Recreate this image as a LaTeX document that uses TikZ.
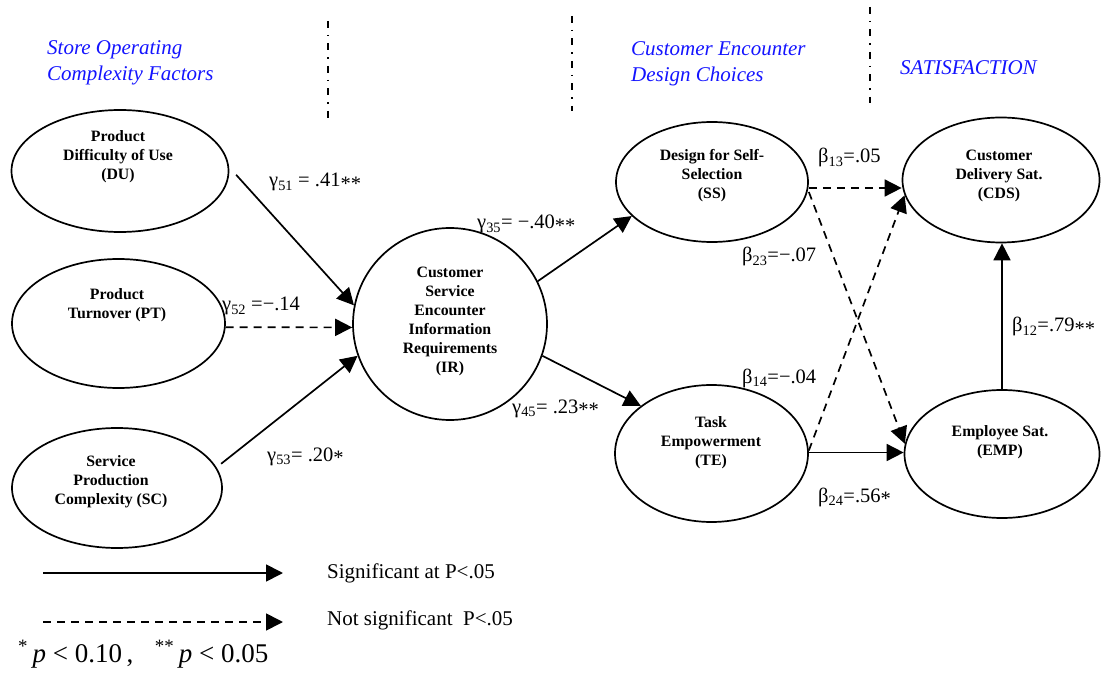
\documentclass[tikz,border=0pt]{standalone}
\usepackage{fontspec}
\setmainfont{Liberation Serif}
\usetikzlibrary{arrows.meta,shapes.geometric}
\definecolor{hdrblue}{RGB}{20,20,255}
\newcommand{\mystars}[1]{\raisebox{-0.35ex}{#1}}
\begin{document}
\begin{tikzpicture}[x=1pt,y=-1pt,
  latent/.style={draw, line width=1.7pt, ellipse, inner sep=0pt},
  ntext/.style={align=center, inner sep=0pt, font=\fontsize{15.8}{19}\selectfont\bfseries},
  coef/.style={anchor=base west, inner sep=0pt, font=\fontsize{20.5}{24}\selectfont},
  hdr/.style={anchor=base west, inner sep=0pt, text=hdrblue, font=\fontsize{21}{26}\selectfont\itshape},
  sig/.style={line width=1.7pt, -{Triangle[length=17pt,width=17pt]}},
  nsig/.style={sig, dash pattern=on 8pt off 6pt},
  divider/.style={line width=1.3pt, dash pattern=on 7pt off 7pt on 1.5pt off 7pt},
  legtext/.style={anchor=west, inner sep=0pt, font=\fontsize{21}{25}\selectfont}
]
\useasboundingbox (0,0) rectangle (1106,676);

% headers
\node[hdr] (h1a) at (47,55) {Store Operating};
\node[hdr] (h1b) at (47,81) {Complexity Factors};
\node[hdr] (h2a) at (631,56) {Customer Encounter};
\node[hdr] (h2b) at (631,82) {Design Choices};
\node[hdr] (h3) at (900,75) {SATISFACTION};

% dividers
\draw[divider] (328,21) -- (328,118);
\draw[divider] (572,16) -- (572,111);
\draw[divider] (870,7) -- (870,103);

% latent variables
\node[latent, minimum width=217pt, minimum height=122pt] (DU) at (120,171) {};
\node[ntext] (DUt) at (118,157) {Product\\Difficulty of Use\\(DU)};
\node[latent, minimum width=213pt, minimum height=129pt] (PT) at (118.5,323.5) {};
\node[ntext] (PTt) at (117,305.5) {Product\\Turnover (PT)};
\node[latent, minimum width=210pt, minimum height=120pt] (SC) at (117,488) {};
\node[ntext] (SCt) at (111,482) {Service\\Production\\Complexity (SC)};
\node[latent, minimum width=194pt, minimum height=192pt] (IR) at (450,324) {};
\node[ntext] (IRt) at (450,321.5) {Customer\\Service\\Encounter\\Information\\Requirements\\(IR)};
\node[latent, minimum width=192pt, minimum height=120pt] (SS) at (712,182) {};
\node[ntext] (SSt) at (712,176) {Design for Self-\\Selection\\(SS)};
\node[latent, minimum width=197pt, minimum height=125pt] (CDS) at (1001,180) {};
\node[ntext] (CDSt) at (999,176) {Customer\\Delivery Sat.\\(CDS)};
\node[latent, minimum width=193pt, minimum height=137pt] (TE) at (711.5,453.5) {};
\node[ntext] (TEt) at (711,442.5) {Task\\Empowerment\\(TE)};
\node[latent, minimum width=195pt, minimum height=128pt] (EMP) at (1002,454) {};
\node[ntext] (EMPt) at (1000,442) {Employee Sat.\\(EMP)};

% paths
\draw[sig] ([xshift=7pt]DU.-2) -- (IR.169);
\draw[nsig] (PT.-2) -- (IR.182);
\draw[sig] ([xshift=7pt]SC.14) -- (IR.199);
\draw[sig] (IR.26) -- (SS.203);
\draw[sig] (IR.-19) -- (TE.146);
\coordinate (s1) at ([yshift=-6pt]SS.east);
\draw[nsig] (s1) -- (s1 -| CDS.west);
\draw[nsig] ([yshift=-10pt]SS.east) -- (EMP.174);
\draw[nsig] ([yshift=3pt]TE.east) -- (CDS.189);
\coordinate (t1) at ([yshift=1pt]TE.east);
\draw[sig] (t1) -- (t1 -| EMP.west);
\draw[sig] (EMP.north) -- (EMP.north |- CDS.south);

% coefficients
\node[coef] (g51) at (269,187) {γ\textsubscript{51} = .41\mystars{**}};
\node[coef] (g52) at (222,311) {γ\textsubscript{52} =−.14};
\node[coef] (g53) at (267,461) {γ\textsubscript{53}= .20\mystars{*}};
\node[coef] (g35) at (477,229) {γ\textsubscript{35}= −.40\mystars{**}};
\node[coef] (g45) at (512,413) {γ\textsubscript{45}= .23\mystars{**}};
\node[coef] (b13) at (818,163) {β\textsubscript{13}=.05};
\node[coef] (b23) at (742,262) {β\textsubscript{23}=−.07};
\node[coef] (b14) at (742,383) {β\textsubscript{14}=−.04};
\node[coef] (b24) at (818,502) {β\textsubscript{24}=.56\mystars{*}};
\node[coef] (b12) at (1012,332) {β\textsubscript{12}=.79\mystars{**}};

% legend
\coordinate (ls1) at (43,573);
\coordinate (le1) at (283,573);
\draw[sig] (ls1) -- (le1);
\node[legtext] (lt1) at (327,573) {Significant at P<.05};
\coordinate (ls2) at (43,622);
\coordinate (le2) at (283,622);
\draw[nsig] (ls2) -- (le2);
\node[legtext] (lt2) at (327,620) {Not significant\ \ P<.05};
\node[anchor=base west, inner sep=0pt, font=\fontsize{27}{30}\selectfont] (fn) at (18,662)
  {\textsuperscript{*}\,\textit{p} < 0.10\,,\hspace{0.8em}\textsuperscript{**}\,\textit{p} < 0.05};
\end{tikzpicture}
\end{document}
